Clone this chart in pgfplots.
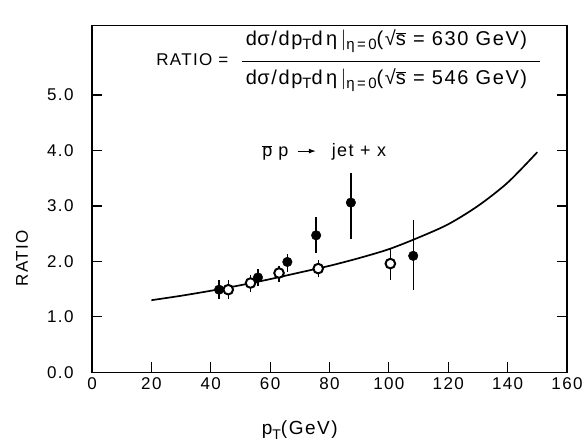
\documentclass[border=0pt]{standalone}
\usepackage{pgfplots}
\pgfplotsset{compat=1.18}
\usepackage{fontspec}
\setmainfont{Liberation Sans}[LetterSpace=8]
\usetikzlibrary{arrows.meta}
\newcommand{\sub}[1]{\raisebox{-0.45ex}{\fontsize{14}{16}\selectfont #1}}
\newcommand{\subb}[1]{\raisebox{-0.45ex}{\fontsize{15}{17}\selectfont #1}}
\begin{document}
\begin{tikzpicture}[font=\fontsize{17}{20}\selectfont]
\begin{axis}[
  name=ax,
  scale only axis,
  width=475pt, height=346.6pt,
  xmin=0, xmax=160, ymin=0, ymax=6.25,
  xtick={0,20,...,160},
  ytick={0,1,...,5},
  xtick pos=bottom,
  ytick pos=both,
  tick align=inside,
  major tick length=10pt,
  tick style={line width=1.2pt, black},
  axis line style={line width=1.4pt},
  /pgf/number format/assume math mode=true,
  yticklabel style={/pgf/number format/fixed, /pgf/number format/fixed zerofill, /pgf/number format/precision=1, xshift=-15pt},
  xticklabel style={yshift=-2pt},
  xlabel={p\sub{T}(GeV)},
  ylabel={RATIO},
  every axis x label/.style={at={(axis cs:70,-1.04)}, anchor=center, font=\fontsize{19}{22}\selectfont},
  every axis y label/.style={at={(axis cs:-23.6,2.06)}, anchor=center, rotate=90},
  clip=false,
]
% theory curve
\addplot[black, line width=1.7pt, smooth] coordinates {
  (20,1.30) (30,1.38) (40,1.47) (50,1.57) (60,1.68) (70,1.80) (80,1.92)
  (90,2.06) (100,2.22) (110,2.43) (120,2.67) (130,3.00) (140,3.42) (150,3.97)
};
% filled points
\addplot[only marks, mark=*, mark size=4.8pt, black,
  error bars/.cd, y dir=both, y explicit, error mark=none,
  error bar style={line width=1.3pt}]
  table[x=x, y=y, y error plus=ep, y error minus=em] {
x     y     ep    em
42.8  1.49  0.17  0.17
55.9  1.71  0.15  0.15
65.8  1.99  0.15  0.18
75.5  2.47  0.33  0.31
87.2  3.06  0.54  0.66
108.2 2.10  0.65  0.62
};
% open points
\addplot[only marks, mark=*, mark size=4.8pt, draw=black, fill=white,
  mark options={line width=2pt, fill=white},
  error bars/.cd, y dir=both, y explicit, error mark=none,
  error bar style={line width=1.3pt, black}]
  table[x=x, y=y, y error plus=ep, y error minus=em] {
x     y     ep    em
45.9  1.49  0.17  0.17
53.4  1.61  0.14  0.16
63.0  1.79  0.13  0.16
76.2  1.87  0.15  0.16
100.5 1.96  0.26  0.30
};
% formula
\node[anchor=center] at (axis cs:33.8,5.63) {RATIO =};
\node[anchor=center, font=\fontsize{20}{23}\selectfont] at (axis cs:99.2,5.97) {d\kern0.5pt σ/dp\subb{T}d\,η\,$|$\subb{η\,=\,0}(√$\overline{\mbox{s}}$ = 630 GeV)};
\node[anchor=center, font=\fontsize{20}{23}\selectfont] at (axis cs:99.2,5.27) {d\kern0.5pt σ/dp\subb{T}d\,η\,$|$\subb{η\,=\,0}(√$\overline{\mbox{s}}$ = 546 GeV)};
\draw[line width=0.9pt] (axis cs:50.5,5.61) -- (axis cs:150.9,5.61);
\node[anchor=west, inner sep=0pt, font=\fontsize{18}{21}\selectfont] at (axis cs:57.3,3.97) {$\overline{\mbox{p}}$\,\,p\,\,\,\tikz[baseline=-0.6ex]\draw[line width=1pt,-{Latex[length=7pt,width=5pt]}](0,0)--(18pt,0);\,\,\, jet + x};
\end{axis}
\pgfresetboundingbox
\path[use as bounding box] (ax.south west) ++(-92pt,-70.7pt) rectangle ++(584pt,443pt);
\end{tikzpicture}
\end{document}
